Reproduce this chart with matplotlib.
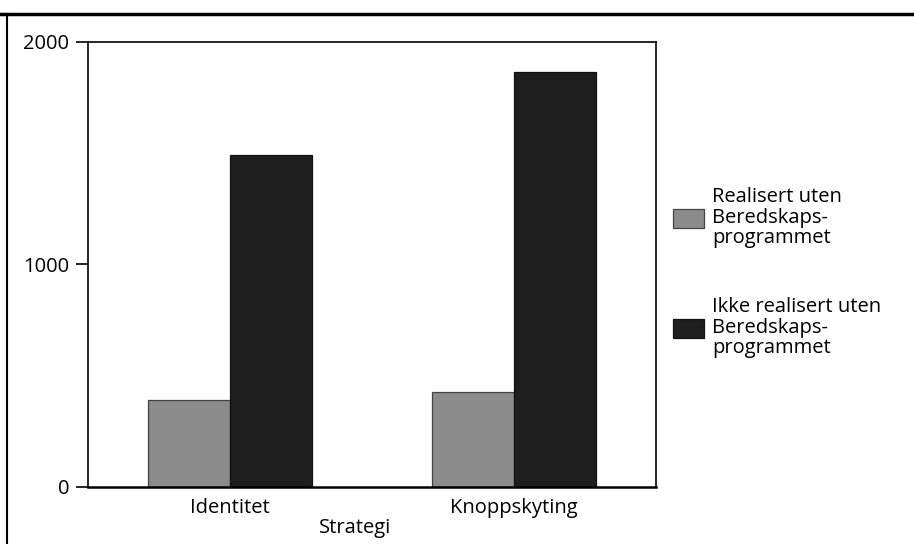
import matplotlib
matplotlib.use("Agg")
import matplotlib.pyplot as plt
import numpy as np
from matplotlib.lines import Line2D

categories = ["Identitet", "Knoppskyting"]
realisert = [390, 428]
ikke_realisert = [1490, 1865]
series_labels = ["Realisert uten\nBeredskaps-\nprogrammet",
                 "Ikke realisert uten\nBeredskaps-\nprogrammet"]
yticks = [0, 1000, 2000]

plt.rcParams["font.family"] = ["Open Sans", "DejaVu Sans"]
FS = 14.5

fig = plt.figure(figsize=(9.14, 5.44), dpi=100)
ax = fig.add_axes([0.0963, 0.1048, 0.6214, 0.818])

x = np.arange(len(categories))
w = 0.29
b1 = ax.bar(x - w / 2, realisert, w, color="#8c8c8c", edgecolor="#444444", linewidth=0.9,
            label=series_labels[0])
b2 = ax.bar(x + w / 2, ikke_realisert, w, color="#1e1e1e", edgecolor="#111111", linewidth=0.9,
            label=series_labels[1])

ax.set_xlim(-0.5, 1.5)
ax.set_ylim(0, 2000)
ax.set_yticks(yticks)
ax.set_yticklabels([str(t) for t in yticks], fontsize=FS)
ax.set_xticks(x)
ax.set_xticklabels(categories, fontsize=FS)
ax.tick_params(axis="x", length=0, pad=8)
ax.tick_params(axis="y", length=9, width=1.2, pad=4.5)
for s in ax.spines.values():
    s.set_linewidth(1.2)
ax.spines["bottom"].set_linewidth(1.8)
ax.set_xlabel("Strategi", fontsize=FS)
ax.xaxis.set_label_coords(0.47, -0.07)

leg = fig.legend(handles=[b1, b2], labels=series_labels, loc="upper left",
                 bbox_to_anchor=(0.716, 0.689), frameon=False, fontsize=FS,
                 handlelength=1.55, handleheight=1.1, handletextpad=0.4,
                 labelspacing=2.45)
for t in leg.get_texts():
    t.set_linespacing(1.02)

# page frame
fig.add_artist(Line2D([0, 1], [0.974, 0.974], color="black", linewidth=2.5,
                      transform=fig.transFigure))
fig.add_artist(Line2D([0.0075, 0.0075], [0.0, 0.974], color="black", linewidth=1.5,
                      transform=fig.transFigure))

fig.savefig("out.png", dpi=100)
